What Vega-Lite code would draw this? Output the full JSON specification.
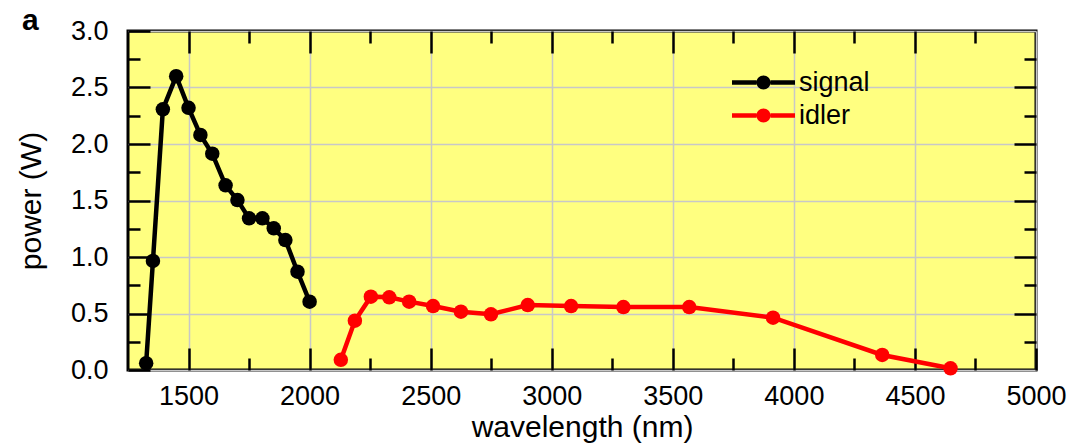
{
  "$schema": "https://vega.github.io/schema/vega-lite/v6.json",
  "autosize": "none",
  "width": 908,
  "height": 339,
  "padding": {"left": 128, "top": 31, "right": 38, "bottom": 76},
  "background": "white",
  "config": {
    "font": "Liberation Sans",
    "view": {"fill": "#ffff80", "stroke": "black", "strokeWidth": 3}
  },
  "title": {
    "text": "a",
    "anchor": "start",
    "frame": "group",
    "fontSize": 30,
    "fontWeight": "bold",
    "font": "Liberation Sans",
    "color": "black",
    "baseline": "alphabetic",
    "offset": 3,
    "dx": -106,
    "dy": 46
  },
  "data": {
    "values": [
      {"wavelength": 1325, "power": 0.06, "series": "signal"},
      {"wavelength": 1353, "power": 0.965, "series": "signal"},
      {"wavelength": 1394, "power": 2.307, "series": "signal"},
      {"wavelength": 1449, "power": 2.60, "series": "signal"},
      {"wavelength": 1500, "power": 2.32, "series": "signal"},
      {"wavelength": 1549, "power": 2.08, "series": "signal"},
      {"wavelength": 1598, "power": 1.914, "series": "signal"},
      {"wavelength": 1653, "power": 1.634, "series": "signal"},
      {"wavelength": 1702, "power": 1.504, "series": "signal"},
      {"wavelength": 1750, "power": 1.342, "series": "signal"},
      {"wavelength": 1805, "power": 1.342, "series": "signal"},
      {"wavelength": 1852, "power": 1.254, "series": "signal"},
      {"wavelength": 1900, "power": 1.15, "series": "signal"},
      {"wavelength": 1950, "power": 0.87, "series": "signal"},
      {"wavelength": 2000, "power": 0.605, "series": "signal"},
      {"wavelength": 2129, "power": 0.09, "series": "idler"},
      {"wavelength": 2187, "power": 0.436, "series": "idler"},
      {"wavelength": 2253, "power": 0.649, "series": "idler"},
      {"wavelength": 2329, "power": 0.643, "series": "idler"},
      {"wavelength": 2411, "power": 0.605, "series": "idler"},
      {"wavelength": 2510, "power": 0.566, "series": "idler"},
      {"wavelength": 2625, "power": 0.516, "series": "idler"},
      {"wavelength": 2749, "power": 0.493, "series": "idler"},
      {"wavelength": 2901, "power": 0.575, "series": "idler"},
      {"wavelength": 3080, "power": 0.566, "series": "idler"},
      {"wavelength": 3296, "power": 0.557, "series": "idler"},
      {"wavelength": 3568, "power": 0.557, "series": "idler"},
      {"wavelength": 3914, "power": 0.463, "series": "idler"},
      {"wavelength": 4365, "power": 0.133, "series": "idler"},
      {"wavelength": 4647, "power": 0.015, "series": "idler"}
    ]
  },
  "resolve": {"axis": {"x": "independent", "y": "independent"}},
  "layer": [
    {
      "mark": {"type": "line", "strokeWidth": 4.5, "point": {"filled": true, "size": 210, "opacity": 1}},
      "encoding": {
        "x": {
          "field": "wavelength", "type": "quantitative",
          "scale": {"domain": [1250, 5000], "nice": false, "zero": false},
          "axis": {
            "orient": "bottom",
            "title": "wavelength (nm)",
            "titleFontSize": 30, "titleFontWeight": "normal", "titleColor": "black", "titleFont": "Liberation Sans",
            "titlePadding": -7,
            "values": [1500, 1750, 2000, 2250, 2500, 2750, 3000, 3250, 3500, 3750, 4000, 4250, 4500, 4750, 5000],
            "format": "d",
            "labelExpr": "datum.value % 500 === 0 ? datum.label : ''",
            "labelFontSize": 27, "labelColor": "black", "labelFont": "Liberation Sans",
            "labelPadding": 35,
            "labelFlush": false,
            "labelOverlap": false,
            "domain": false,
            "tickColor": "black", "tickWidth": 2.5,
            "tickSize": {"condition": {"test": "datum.value % 500 === 0", "value": -22}, "value": -12},
            "grid": true,
            "gridColor": "#c8c8c8", "gridWidth": 1.5,
            "gridOpacity": {"condition": {"test": "datum.value % 500 === 0", "value": 1}, "value": 0}
          }
        },
        "y": {
          "field": "power", "type": "quantitative",
          "scale": {"domain": [0, 3], "nice": false},
          "axis": {
            "orient": "left",
            "title": "power (W)",
            "titleFontSize": 30, "titleFontWeight": "normal", "titleColor": "black", "titleFont": "Liberation Sans",
            "titlePadding": 24,
            "values": [0, 0.25, 0.5, 0.75, 1, 1.25, 1.5, 1.75, 2, 2.25, 2.5, 2.75, 3],
            "format": ".1f",
            "labelExpr": "datum.value % 0.5 === 0 ? datum.label : ''",
            "labelFontSize": 27, "labelColor": "black", "labelFont": "Liberation Sans",
            "labelPadding": 42,
            "labelFlush": false,
            "labelOverlap": false,
            "domain": false,
            "tickColor": "black", "tickWidth": 2.5,
            "tickSize": {"condition": {"test": "datum.value % 0.5 === 0", "value": -22}, "value": -12},
            "grid": true,
            "gridColor": "#c8c8c8", "gridWidth": 1.5,
            "gridOpacity": {"condition": {"test": "datum.value % 0.5 === 0", "value": 1}, "value": 0}
          }
        },
        "color": {
          "field": "series", "type": "nominal",
          "scale": {"domain": ["signal", "idler"], "range": ["black", "#ff0000"]},
          "legend": {
            "title": null,
            "orient": "none",
            "legendX": 622,
            "legendY": 38,
            "symbolType": "M-4.5,-0.33H-1V0.33H-4.5Z M1,-0.33H4.5V0.33H1Z M-1,0A1,1 0 1,0 1,0A1,1 0 1,0 -1,0Z",
            "symbolSize": 196,
            "symbolStrokeWidth": 0,
            "labelOffset": 22,
            "labelFontSize": 27,
            "labelFont": "Liberation Sans",
            "labelColor": "black",
            "rowPadding": 5,
            "encode": {
              "symbols": {"update": {"fill": {"scale": "color", "field": "value"}, "stroke": {"value": "transparent"}, "fillOpacity": {"value": 1}, "opacity": {"value": 1}}}
            }
          }
        }
      }
    },
    {
      "mark": {"type": "point", "opacity": 0},
      "encoding": {
        "x": {
          "field": "wavelength", "type": "quantitative",
          "axis": {
            "orient": "top", "title": null, "labels": false, "domain": false, "grid": false,
            "values": [1500, 1750, 2000, 2250, 2500, 2750, 3000, 3250, 3500, 3750, 4000, 4250, 4500, 4750],
            "tickColor": "black", "tickWidth": 2.5,
            "tickSize": {"condition": {"test": "datum.value % 500 === 0", "value": -22}, "value": -12}
          }
        },
        "y": {
          "field": "power", "type": "quantitative",
          "axis": {
            "orient": "right", "title": null, "labels": false, "domain": false, "grid": false,
            "values": [0.25, 0.5, 0.75, 1, 1.25, 1.5, 1.75, 2, 2.25, 2.5, 2.75],
            "tickColor": "black", "tickWidth": 2.5,
            "tickSize": {"condition": {"test": "datum.value % 0.5 === 0", "value": -22}, "value": -12}
          }
        }
      }
    }
  ]
}
